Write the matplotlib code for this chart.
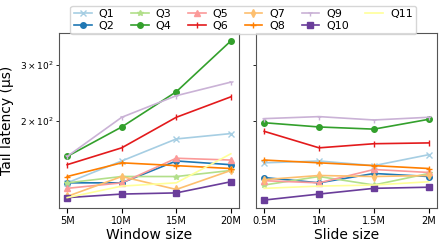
import matplotlib
matplotlib.use("Agg")
import matplotlib.pyplot as plt
from matplotlib.ticker import LogFormatterSciNotation

queries = ["Q1", "Q2", "Q3", "Q4", "Q5", "Q6", "Q7", "Q8", "Q9", "Q10", "Q11"]
markers = ["x", "o", "*", "o", "^", "|", "d", "+", "1", "s", None]

window_labels = ["5M", "10M", "15M", "20M"]
slide_labels = ["0.5M", "1M", "1.5M", "2M"]

window_q1 = [127, 149, 175, 182]
window_q2 = [127, 127, 149, 145]
window_q3 = [127, 133, 133, 139]
window_q4 = [154, 191, 247, 358]
window_q5 = [122, 127, 152, 150]
window_q6 = [145, 164, 205, 238]
window_q7 = [115, 133, 121, 139]
window_q8 = [133, 147, 144, 141]
window_q9 = [154, 205, 240, 265]
window_q10 = [114, 117, 118, 128]
window_q11 = [114, 124, 127, 157]

slide_q1 = [147, 149, 144, 156]
slide_q2 = [132, 127, 136, 133]
slide_q3 = [125, 133, 125, 136]
slide_q4 = [197, 191, 188, 202]
slide_q5 = [129, 127, 140, 137]
slide_q6 = [185, 164, 169, 170]
slide_q7 = [130, 134, 133, 134]
slide_q8 = [150, 147, 144, 141]
slide_q9 = [203, 206, 201, 205]
slide_q10 = [112, 117, 122, 123]
slide_q11 = [122, 124, 125, 128]

window_data = [window_q1, window_q2, window_q3, window_q4, window_q5, window_q6,
               window_q7, window_q8, window_q9, window_q10, window_q11]
slide_data = [slide_q1, slide_q2, slide_q3, slide_q4, slide_q5, slide_q6,
              slide_q7, slide_q8, slide_q9, slide_q10, slide_q11]

colors = plt.get_cmap("Paired").colors

fig = plt.figure(figsize=(4.43, 2.44), dpi=100)
ax1 = fig.add_axes([59/443, 1 - 208/244, 180/443, 175/244])
ax2 = fig.add_axes([256/443, 1 - 208/244, 181/443, 175/244], sharey=ax1)

for ax, data, labels in [(ax1, window_data, window_labels), (ax2, slide_data, slide_labels)]:
    x = list(range(len(labels)))
    for i, (q, vals) in enumerate(zip(queries, data)):
        ax.plot(x, vals, color=colors[i], marker=markers[i], markersize=4,
                linewidth=1.2, label=q)
    ax.set_yscale("log")
    ax.set_xticks(x)
    ax.set_xticklabels(labels)
    ax.tick_params(axis="x", labelsize=7, pad=2)
    ax.tick_params(axis="y", which="both", labelsize=6.5, pad=2)
    for s in ax.spines.values():
        s.set_color("#555555")

ax1.yaxis.set_minor_formatter(LogFormatterSciNotation(labelOnlyBase=False, minor_thresholds=(2, 0.4)))
ax1.yaxis.set_major_formatter(LogFormatterSciNotation())
plt.setp(ax2.get_yticklabels(which="both"), visible=False)

ax1.set_xlabel("Window size", fontsize=10, labelpad=2)
ax2.set_xlabel("Slide size", fontsize=10, labelpad=2)
ax1.set_ylabel("Tail latency (μs)", fontsize=10, labelpad=4)

handles, labs = ax1.get_legend_handles_labels()
fig.legend(handles, labs, loc="upper center", bbox_to_anchor=(0.549, 1.0), ncol=6,
           fontsize=8, frameon=True, handlelength=1.6, columnspacing=1.5,
           borderpad=0.3, labelspacing=0.2, handletextpad=0.6)

fig.savefig("out.png", dpi=100)
